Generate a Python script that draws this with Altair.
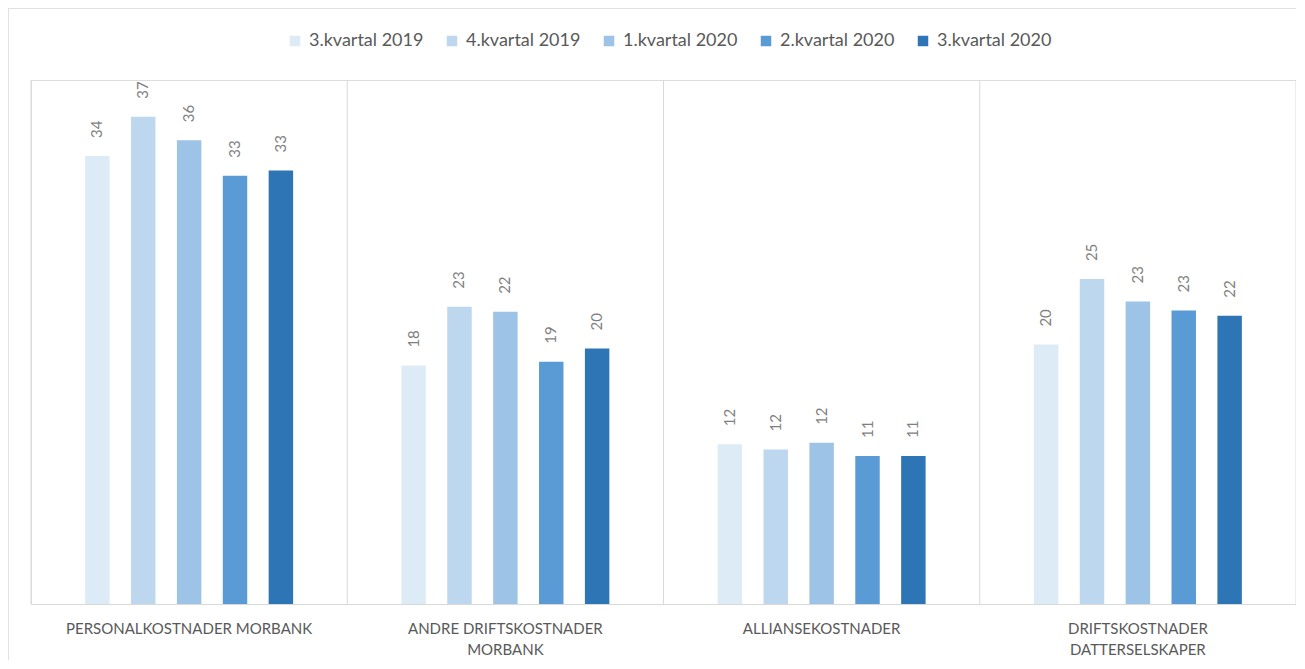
import altair as alt
import pandas as pd

categories = [
    "PERSONALKOSTNADER MORBANK",
    "ANDRE DRIFTSKOSTNADER MORBANK",
    "ALLIANSEKOSTNADER",
    "DRIFTSKOSTNADER DATTERSELSKAPER",
]
category_lines = {
    "ANDRE DRIFTSKOSTNADER MORBANK": ["ANDRE DRIFTSKOSTNADER", "MORBANK"],
    "DRIFTSKOSTNADER DATTERSELSKAPER": ["DRIFTSKOSTNADER", "DATTERSELSKAPER"],
}
series = ["3.kvartal 2019", "4.kvartal 2019", "1.kvartal 2020", "2.kvartal 2020", "3.kvartal 2020"]
colors = ["#DDEBF7", "#BDD7EE", "#9DC3E6", "#5B9BD5", "#2E75B6"]

# bar heights per series (one value per category)
values = {
    "3.kvartal 2019": [34.2, 18.2, 12.2, 19.8],
    "4.kvartal 2019": [37.2, 22.7, 11.8, 24.8],
    "1.kvartal 2020": [35.4, 22.3, 12.3, 23.1],
    "2.kvartal 2020": [32.7, 18.5, 11.3, 22.4],
    "3.kvartal 2020": [33.1, 19.5, 11.3, 22.0],
}
# data labels as printed
labels = {
    "3.kvartal 2019": [34, 18, 12, 20],
    "4.kvartal 2019": [37, 23, 12, 25],
    "1.kvartal 2020": [36, 22, 12, 23],
    "2.kvartal 2020": [33, 19, 11, 23],
    "3.kvartal 2020": [33, 20, 11, 22],
}

rows = []
for s in series:
    for i, c in enumerate(categories):
        rows.append({"cat": c, "series": s, "value": values[s][i], "label": str(labels[s][i])})
df = pd.DataFrame(rows)

label_expr = ""
for k, v in category_lines.items():
    label_expr += "datum.value == '%s' ? [%s] : " % (k, ", ".join("'%s'" % x for x in v))
label_expr += "datum.value"

FONT = "Lato"
W, H = 1265, 524

x_enc = alt.X(
    "cat:N", sort=categories, title=None,
    scale=alt.Scale(paddingInner=0, paddingOuter=0),
    axis=alt.Axis(labelAngle=0, ticks=False, domainColor="#D9D9D9", domainWidth=1,
                  labelColor="#595959", labelFont=FONT, labelFontSize=15, labelPadding=17,
                  labelLineHeight=21, labelExpr=label_expr, labelLimit=400),
)
y_enc = alt.Y("value:Q", scale=alt.Scale(domain=[0, 40]), axis=None)
# empty slots at both ends of each group give the wide outer gap
offset_domain = ["_gapL"] + series + ["_gapR"]
xoff = alt.XOffset("series:N",
                   scale=alt.Scale(domain=offset_domain, paddingInner=0.467, paddingOuter=0.18))

bars = alt.Chart(df).mark_bar().encode(
    x=x_enc,
    xOffset=xoff,
    y=y_enc,
    color=alt.Color("series:N", sort=series, scale=alt.Scale(domain=series, range=colors),
                    legend=alt.Legend(title=None, orient="none", direction="horizontal",
                                      legendX=255, legendY=-48, padding=0,
                                      symbolType="square", symbolSize=110, symbolStrokeWidth=0,
                                      labelFont=FONT, labelFontSize=18, labelColor="#595959",
                                      labelOffset=5, columnPadding=19)),
)

text = alt.Chart(df).mark_text(angle=270, align="left", baseline="middle", dx=18,
                               font=FONT, fontSize=15, color="#7F7F7F").encode(
    x=alt.X("cat:N", sort=categories),
    xOffset=xoff,
    y=alt.Y("value:Q"),
    text="label:N",
)

rules_df = pd.DataFrame({"cat": categories, "top": [40] * 4, "bottom": [0] * 4})
sep_left = alt.Chart(rules_df).mark_rule(color="#D9D9D9", strokeWidth=1).encode(
    x=alt.X("cat:N", sort=categories, bandPosition=0),
    y=alt.Y("top:Q"),
    y2=alt.Y2("bottom:Q"),
)
sep_right = alt.Chart(rules_df.tail(1)).mark_rule(color="#D9D9D9", strokeWidth=1).encode(
    x=alt.X("cat:N", sort=categories, bandPosition=1),
    y=alt.Y("top:Q"),
    y2=alt.Y2("bottom:Q"),
)

frame = alt.Chart(pd.DataFrame({"k": [0]})).mark_rect(
    filled=False, stroke="#D9D9D9", strokeWidth=1.5
).encode(
    x=alt.value(-23), x2=alt.value(W + 40), y=alt.value(-72), y2=alt.value(H + 90),
)

chart = alt.layer(bars, text, sep_left, sep_right, frame).properties(
    width=W, height=H,
    padding={"left": 23, "top": 72, "right": 0, "bottom": 56},
    autosize=alt.AutoSizeParams(type="none"),
).configure_view(stroke=None).configure(font=FONT)

chart.save("out.html", embed_options={"renderer": "svg", "actions": False})
